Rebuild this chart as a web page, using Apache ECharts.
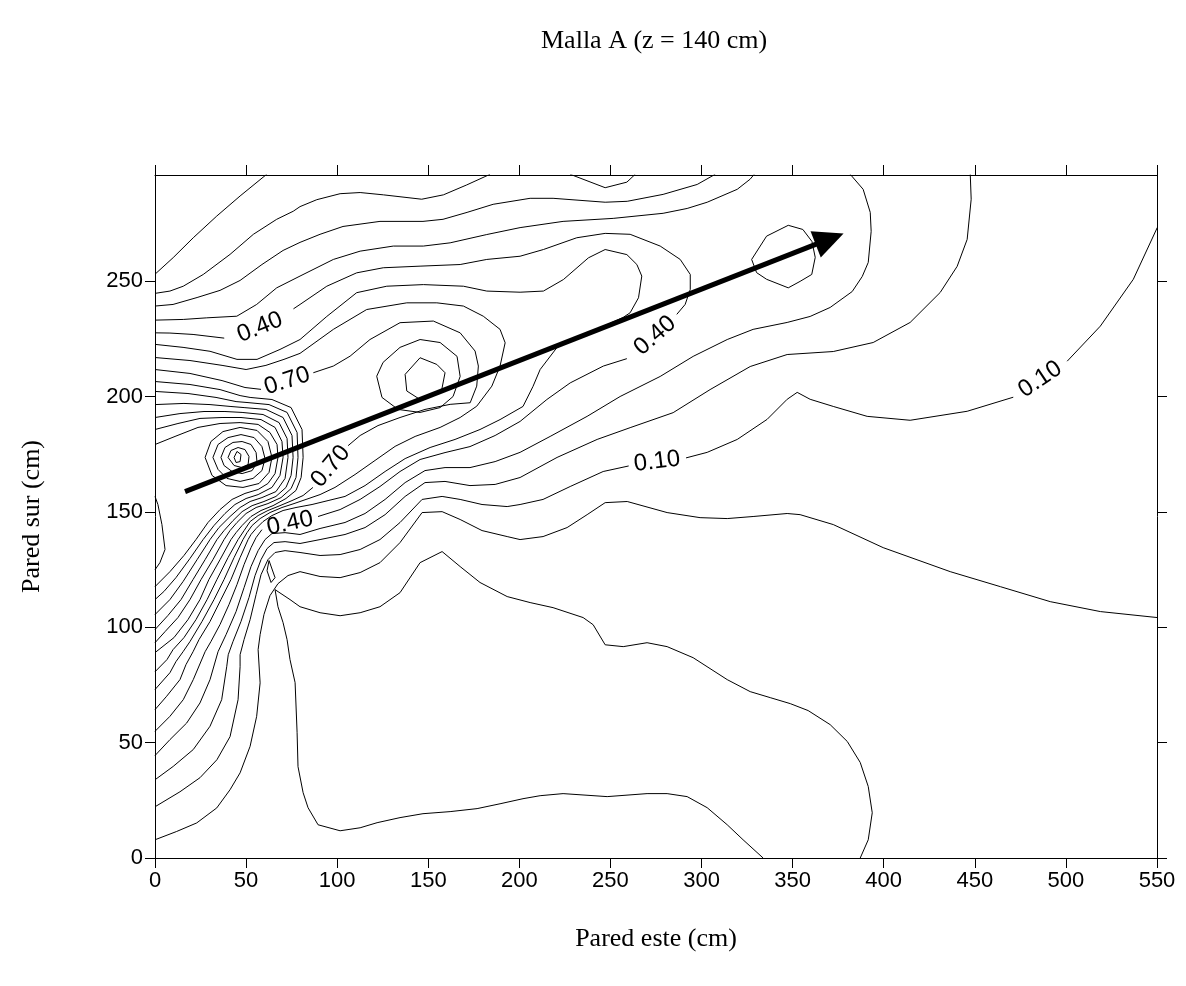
<!DOCTYPE html>
<html><head><meta charset="utf-8">
<script src="https://cdn.jsdelivr.net/npm/echarts@6/dist/echarts.min.js"></script>
<style>html,body{margin:0;padding:0;background:#fff}#c{width:1186px;height:986px}</style>
</head><body><div id="c"></div>
<script>
// axis ranges / ticks
const xMin = 0, xMax = 550, xStep = 50;
const yMin = 0, yMax = 296, yStep = 50;
const xTickValues = [0,50,100,150,200,250,300,350,400,450,500,550];
const yTickValues = [0,50,100,150,200,250];

// contour polylines (data units: cm, cm)
const lineL6 = [[333.8,0],[322.8,7.9],[314.1,14.4],[303.1,21.8],[292.1,26.6],[281.1,27.9],[270.1,27.9],[248.2,26.6],[224,27.9],[211.4,27],[202,25.7],[189.4,23.5],[176.8,21.4],[162,20.1],[147.1,19.2],[134.5,17.5],[121.9,15.3],[112.6,13.1],[101.6,11.8],[89.5,14.4],[84,21.8],[81.3,28.3],[78.5,39.6],[78,54.3],[76.9,76],[74.1,86],[72.5,94.6],[70.3,102],[67.5,108.9],[65.9,116.3],[74.1,112],[79.6,108.9],[90.6,106.3],[101.6,105],[112.6,106.3],[123.5,108.9],[134.5,115],[145.5,128],[157.6,132.8],[167.5,126.3],[178.4,119.4],[193.3,113.3],[205.9,110.7],[218.5,108.5],[235,104.2],[240.5,101.1],[247.1,92.4],[257,91.6],[270.1,93.3],[281.1,91.6],[295.4,86.8],[314.1,77.3],[326.7,72.1],[337.7,69.5],[348.7,66.9],[358.5,63.9],[370.6,57.8],[380,50.5],[387.1,41.4],[391.5,31],[393.7,19.6],[391.5,7.9],[387.1,0]];
const lineL5 = [[0,7.9],[11.9,11.5],[22.9,15.2],[33.9,21.7],[41.2,29.6],[46.7,36.9],[52.2,48.4],[55.8,61.4],[57.7,75.9],[56.6,90.3],[57.7,96.8],[59.8,105.5],[63.1,113.7],[67.5,118.9],[73,122.4],[79.6,124.1],[90.6,122],[101.6,121.5],[112.6,123.7],[123.5,128],[134.5,136.7],[146.6,149.7],[157.6,150.1],[167.5,146.7],[179.5,141.9],[193.3,139.3],[200.4,138],[213,139.3],[226.2,143.2],[237.2,148.8],[247.1,154],[259.2,154.5],[281.1,149.7],[299.2,147.5],[314.1,147.1],[328.3,148],[347,149.3],[354.1,148.8],[372.3,144.5],[399.7,134.5],[436.5,124.1],[464,117.6],[491.4,111.1],[518.9,106.8],[550.2,104.2]];
const sliverLoop = [[62.6,128.9],[65.9,121.5],[63.7,119.4],[61.5,124.5],[62.6,128.9]];
const line010a = [[0,22.2],[13.7,28.7],[24.7,34.8],[34,42.6],[41.2,52.6],[45.6,68.6],[46.7,82.9],[46.7,88.1],[48.9,94.7],[52.2,103.3],[55.5,114.2],[58.2,122.8],[62,129.3],[65.9,132.4],[71.4,133.2],[79.6,132.4],[90.6,131.1],[101.6,131.5],[112.6,133.7],[123.5,138],[134.5,145.4],[146.6,155.4],[157.6,156.7],[167.5,155.4],[179.5,153.2],[193.3,152.3],[200.4,153.2],[213,155.4],[227.9,161],[246,167.5],[260,169.9]];
const line010b = [[291.5,173.4],[303.1,175.8],[319.6,181.4],[336,190.1],[347,198.8],[352.5,201.8],[359.6,198.8],[372.3,195.7],[390.9,191.4],[414.5,189.7],[445.8,193.6],[471.1,199.7]];
const line010c = [[500.7,215.3],[518.9,230.5],[537,250.8],[550.2,273.3]];
const lineA = [[381.6,296.3],[388.7,289.8],[392.6,279.8],[393.1,271.6],[391.5,258.1],[388.2,252],[382.7,245.5],[370.6,238.6],[359.6,234.7],[347,232.1],[328.3,229.1],[314.1,224.7],[295.4,217.4],[277.3,208.7],[255.3,200],[237.2,191.4],[216.9,182.7],[200.4,175.8],[186.7,171.8],[172.9,169.2],[159.2,169.2],[148.2,167.9],[137.3,162.7],[126.3,155.4],[115.3,149.3],[104.3,145.4],[90.6,142.8],[79.6,140.2],[71.4,141],[64.2,140.6],[60.4,138],[56.6,133.2],[52.7,126.3],[48.9,117.2],[44.5,106.8],[39,96.8],[34.6,89.4],[30.2,77.3],[24.7,67.2],[17.4,58.5],[8.2,51.3],[0,44.4]];
const lineB = [[447.5,296.3],[448,285.5],[445.8,268.1],[440.3,256.4],[431,245.1],[414.5,232.1],[394.2,223.4],[372.3,219.5],[347,218.2],[326.7,213],[304.7,203],[284.4,193],[260.8,186.5],[242.7,181.4],[220.7,173.6],[200.4,164.9],[186.7,161.9],[172.9,161.4],[159.2,163.2],[148.2,162.7],[137.3,156.7],[126.3,148.8],[115.3,143.2],[104.3,140.2],[90.6,138],[79.6,136.3],[71.4,137.1],[65.3,136.7],[61.5,134.1],[58.2,129.3],[54.9,122.4],[51.6,112.9],[47.2,102.5],[42.8,93.8],[40.2,88.1],[39.4,83.1],[36.6,68.6],[30.2,57.1],[21,47],[10,39.7],[0,33.9]];
const tipLoop = [[327.5,259.4],[335.7,269.5],[347.6,274.2],[355.6,272.4],[360.6,267.2],[362.4,260.3],[360.5,252.9],[354.1,249.9],[347.6,247.1],[335.7,250.8],[330.2,253.7],[327.5,259.4]];
const lineU1 = [[0,253],[10,260.2],[21,268.8],[33.9,278.2],[46.7,286.9],[61.3,296.3]];
const lineU2 = [[0,244.7],[8.2,245.7],[15.5,247.8],[26.5,252.9],[41.2,261.6],[54,270.3],[66.8,276.8],[75.9,280.3],[79.6,282.3],[88.8,285.3],[101.6,287.9],[112.6,288.4],[125.4,287.4],[146.4,285.5],[158.3,287.4],[171.1,291.7],[183.9,296.3]];
const lineTopDip = [[227.9,296.3],[247.1,290.5],[259,292.9],[263.6,296.3]];
const lineUb = [[0,239.2],[9.9,239.9],[23.1,242.9],[35.7,246],[46.7,250.3],[58.7,257.2],[70.3,263.3],[79.6,266.8],[90.6,270.3],[103.2,273.7],[123.5,275.9],[147.1,275.9],[158.1,276.8],[171.3,279.8],[185.6,283.3],[205.9,285.9],[218.5,285.9],[247.1,284.2],[259.2,284.6],[278.9,287.6],[297.6,291.9],[307.5,296.3]];
const lineUc = [[0,233.1],[15.5,233.4],[28.4,234.1],[44.9,234.8],[55.8,239.9],[66.8,247.1],[79.6,252.2],[97.9,259.4],[112.6,263],[130.8,265.2],[147.3,265.2],[162,266.6],[182.1,270.2],[200.4,273.2],[224,275.9],[251.5,277.2],[278.9,279.4],[292.1,281.5],[303.1,284.2],[319.6,289.8],[326.7,294.2],[328.9,296.3]];
const line040a = [[0,227.6],[8.2,227.5],[20.9,226.9],[38,225.3]];
const line040b = [[76,238],[79.6,239.9],[94.3,247.8],[110.7,253.6],[125.3,255.8],[145.5,256.5],[167.5,257.2],[182.1,259.4],[200.4,260.8],[213.2,263.7],[231.5,268.8],[247.1,270.7],[260.8,270.3],[277.3,265.2],[288.3,259.4],[293.8,252.9],[293.8,246.4],[291,239.9],[286.4,235.6]];
const line040c = [[259,216.4],[246.1,213.2],[227.9,205.9],[215.1,198.7],[200.4,189.2],[186.7,183.1],[172.9,178.3],[159.2,175.7],[145.5,172.7],[134.5,167.5],[123.5,161],[112.6,155.4],[101.6,151],[89.5,148]];
const line040d = [[58.7,142.3],[55.5,138.9],[52.7,134.5],[48.9,127.2],[45,118.5],[40.6,109.8],[35.7,101.2],[30.7,93.8],[27.5,89.4],[21,77.3],[15.5,68.6],[8.2,61.4],[0,54.9]];
const line050 = [[0,222.6],[15.4,221.3],[30.2,219.6],[45,216.1],[56,216.1],[68.6,220.4],[79.6,224.7],[94.3,234.7],[110.7,245],[127.2,247.8],[147.3,248.5],[169.3,247.8],[182.1,245.7],[200.4,245.2],[213.2,245.7],[224.2,250.7],[237.9,260.1],[247.1,263.7],[259,261.5],[264.5,257.2],[267.2,252.2],[265.4,242.8],[260.8,236.3],[257,234.3],[220.7,221.3],[211.4,211.7],[207.5,204.4],[202,195.7],[189.4,190],[178.4,185.7],[164.7,181.4],[151,177.9],[137.3,173.1],[126.3,167.5],[115.3,161.4],[104.3,156.7],[95,154.9],[86.2,153.2],[77.4,151.9],[70.3,150.6],[64.2,148.4],[59.3,145.8],[55.5,142.8],[52.7,140.2],[51.1,138],[46.7,130.2],[41.7,120.7],[36.2,112],[30.2,102.5],[24.2,94.7],[20.9,89.4],[17,83.8],[13.7,77.3],[6.4,70.1],[0,64.3]];
const line060 = [[0,216.9],[19.2,215.6],[36.8,213.5],[50,211.7],[60.9,213.5],[70.8,216.1],[79.6,218.7],[97.9,229.1],[116.2,237.7],[138.2,240.6],[154.7,240.6],[169.3,239.2],[180.2,234.8],[189.4,229.1],[192.2,223.3],[189.4,213.2],[184.9,204.5],[176.6,195.8],[167.5,190.9],[156.5,186.6],[142.8,182.7],[131.8,178.4],[120.8,172.3],[109.8,166.2],[98.8,160.6],[90.6,157.5],[82.9,155.4],[76.3,153.6],[69.7,151.9],[63.1,149.7],[57.7,147.1],[53.3,144.1],[50.5,141],[48.3,138],[43.4,130.2],[37.9,120.7],[32.4,112],[25.8,102.5],[19.2,93.8],[15.4,89.4],[11.5,85.1],[8.2,80.3],[0,73]];
const line070a = [[0,211.7],[19.2,210],[36.8,206.9],[49.4,203.9],[58.2,203.1]];
const line070b = [[86.9,210.3],[97.9,213.2],[107.1,217.5],[118,224.7],[134.5,232],[152.8,232.7],[167.5,227.6],[175.7,219.7],[177.5,213.2],[176.6,204.5],[173,197.3],[162,196.6],[148.2,194.4],[134.5,190.9],[122.4,187.4],[112.6,183.1],[106,178.7]];
const line070c = [[86.7,160.6],[81.3,157.1],[75.2,154.9],[68.6,152.7],[62,150.6],[56.6,148.4],[52.2,145.8],[48.9,141.9],[45.6,138],[40.1,130.2],[34,120.7],[28.6,112],[22.5,103.3],[15.9,95.5],[9.9,90.3],[6.6,86],[0,80.7]];
const line080 = [[0,206.5],[19.2,205.2],[35.7,203],[46.7,200.4],[52.2,199.6],[64.2,198.7],[74.7,195.2],[80.7,185.7],[81.3,173.6],[80.2,164.9],[77.4,159.3],[71.9,155.8],[64.8,152.7],[58.2,150.6],[52.7,148],[47.8,144.1],[44.5,141],[41.7,138],[35.7,129.3],[29.6,120.7],[24.7,112],[18.1,103.3],[10.4,95.5],[0,89]];
const line090 = [[0,202.2],[18.1,201.3],[33.5,199.6],[44.5,197.8],[50.5,197.4],[62.6,196.5],[72.5,193.1],[78,184.4],[78.5,173.6],[77.4,164.9],[74.7,160.1],[69.2,156.2],[62,153.6],[55.5,151.9],[50,149.3],[45,145.4],[41.2,141.9],[37.9,138],[31.8,129.3],[25.3,120.7],[19.2,112],[12.6,104.2],[5.5,98.1],[0,93.3]];
const line100 = [[0,196.5],[15.9,197],[30.2,196.5],[41.2,195.7],[48.9,195.2],[60.9,194.4],[70.3,190.9],[75.2,183.1],[75.8,173.6],[74.7,165.8],[71.9,160.6],[66.4,156.7],[59.8,154.5],[53.3,152.7],[47.8,150.1],[42.8,146.2],[37.9,141.9],[34,138],[27.5,129.3],[20.9,120.7],[14.3,112],[7.1,105.1],[0,99]];
const line110 = [[0,190.9],[13.7,192.6],[26.9,193.5],[38.4,193.5],[47.8,193.1],[59.3,192.2],[68.1,188.7],[72.5,181.8],[73,173.6],[71.4,164.5],[66.4,158.8],[58.7,156.2],[52.2,154.5],[46.7,151.9],[41.2,148],[35.1,143.2],[30.2,138],[23.1,129.3],[15.4,119.8],[8.2,112],[0,105.5]];
const line120 = [[0,185.7],[12.6,188.3],[24.7,190.5],[36.8,190.9],[47.2,190.9],[58.2,190],[65.9,186.6],[69.7,180.5],[70.3,173.6],[68.6,165.8],[64.2,160.6],[56.6,157.5],[50,155.8],[43.9,153.2],[38.4,149.3],[32.4,144.1],[26.4,138],[19.2,129.8],[11.5,121.5],[4.9,115.5],[0,112]];
const line130 = [[0,179.2],[11,182.7],[23.6,186.6],[35.7,188.3],[46.7,188.7],[56.6,187.9],[63.1,184.4],[67,179.2],[67.5,173.6],[65.9,166.6],[62,162.3],[56.6,159.7],[49.4,158],[42.3,155.4],[35.7,151],[29.1,145.4],[22.5,138],[15.9,131.1],[8.2,124.1],[0,117.6]];
const peakLoop5 = [[27.5,173.6],[30.7,180.5],[37.3,184.8],[46.7,186.6],[56,185.3],[62,180.5],[64.2,173.6],[62.6,167.1],[57.1,162.3],[48.3,160.6],[39,161.4],[31.3,165.8],[27.5,173.6]];
const peakLoop4 = [[31.8,173.6],[34.6,179.2],[40.1,182.2],[47.2,183.5],[54.4,182.2],[58.7,178.3],[60.4,173.1],[58.7,167.9],[53.8,164.5],[46.7,163.2],[39.5,164.5],[34.6,168.4],[31.8,173.6]];
const peakLoop3 = [[36.2,173.6],[38.4,177.9],[42.8,180.1],[47.8,180.5],[52.7,179.2],[55.5,175.7],[56,171.4],[53.3,167.9],[47.8,166.6],[42.3,167.5],[37.9,170.1],[36.2,173.6]];
const peakLoop2 = [[40.1,173.6],[41.7,176.6],[45.6,177.9],[49.4,177],[51.6,174],[51.1,170.5],[47.8,169.2],[43.4,170.1],[40.1,173.6]];
const peakLoop1 = [[43.4,173.6],[45,176.2],[47.2,174.9],[46.7,171.8],[44.5,171.4],[43.4,173.6]];
const edgeLoop = [[0,156.7],[1.6,153.2],[3.8,144.5],[5.5,133.7],[2.7,128],[0,124.9]];
const bumpLoop2 = [[121.7,208.8],[125.2,214.8],[134.5,221.3],[145.5,224.7],[156.5,223.4],[165.8,217.4],[167.5,208.7],[163.6,200],[156.5,195.2],[145.5,193.1],[133.4,194.4],[124.6,199.6],[121.7,208.8]];
const bumpLoop3 = [[137.3,209.6],[145.5,216.8],[154.7,213.9],[159.2,210.3],[157.4,203],[145.5,198.7],[138.2,202.4],[137.3,209.6]];

const contourLines = [lineL6, lineL5, sliverLoop, line010a, line010b, line010c, lineA, lineB, tipLoop,
  lineU1, lineU2, lineTopDip, lineUb, lineUc, line040a, line040b, line040c, line040d,
  line050, line060, line070a, line070b, line070c, line080, line090, line100, line110, line120, line130,
  peakLoop5, peakLoop4, peakLoop3, peakLoop2, peakLoop1, edgeLoop, bumpLoop2, bumpLoop3];

// contour labels: [x, y, text, angle]
const contourLabels = [
  [57.6,230.0,'0.40',22],
  [72.5,206.7,'0.70',18],
  [96.4,169.7,'0.70',50],
  [74.1,145.0,'0.40',12],
  [274.5,226.4,'0.40',41],
  [275.6,171.8,'0.10',7],
  [485.9,207.4,'0.10',34]
];

// flow arrow: start, end
const arrowPath = [[16.5,158.8],[370.3,268.3]];

const chart = echarts.init(document.getElementById('c'), null, {renderer:'canvas'});

const axisCommon = {
  type:'value',
  axisLine:{show:true,onZero:false,lineStyle:{color:'#000',width:1}},
  splitLine:{show:false}
};
const sans = 'Liberation Sans, Arial, sans-serif';
const serif = 'Liberation Serif, Times New Roman, serif';
const tickStyle = {show:true,inside:false,length:10,lineStyle:{color:'#000',width:1}};

const series = contourLines.map(pts => ({
  type:'line', data:pts, symbol:'none', silent:true, animation:false,
  lineStyle:{color:'#000',width:1}, xAxisIndex:0, yAxisIndex:0, z:2
}));
series.push({
  type:'scatter', silent:true, animation:false, symbolSize:1, z:5,
  itemStyle:{opacity:0},
  data: contourLabels.map(l => ({value:[l[0],l[1]], name:l[2], label:{rotate:l[3]}})),
  label:{show:true, position:'inside', formatter:p=>p.name, fontFamily:sans, fontSize:24, color:'#000', opacity:1}
});
series.push({
  type:'line', data:[], silent:true, animation:false, z:6,
  markLine:{
    silent:true, animation:false, symbol:['none','triangle'], symbolSize:[28,30],
    lineStyle:{color:'#000',width:5,type:'solid',opacity:1}, itemStyle:{color:'#000'}, label:{show:false},
    emphasis:{disabled:true},
    data:[[{coord:arrowPath[0]},{coord:arrowPath[1]}]]
  }
});

const yFmt = v => (yTickValues.indexOf(v) >= 0 ? String(v) : '');

chart.setOption({
  animation:false,
  backgroundColor:'#fff',
  title:{text:'Malla A (z = 140 cm)', left:536, top:23,
    textStyle:{fontFamily:serif,fontSize:26,fontWeight:'normal',color:'#000'}},
  grid:{left:155,right:29,top:175,bottom:128},
  xAxis:[
    Object.assign({}, axisCommon, {position:'bottom', min:xMin, max:xMax, interval:xStep,
      axisTick:Object.assign({customValues:xTickValues}, tickStyle),
      axisLabel:{margin:12, fontFamily:sans, fontSize:22, color:'#000', customValues:xTickValues},
      name:'Pared este (cm)', nameLocation:'middle', nameGap:68,
      nameTextStyle:{fontFamily:serif,fontSize:26,color:'#000'}}),
    Object.assign({}, axisCommon, {position:'top', min:xMin, max:xMax, interval:xStep,
      axisTick:Object.assign({customValues:xTickValues}, tickStyle), axisLabel:{show:false}})
  ],
  yAxis:[
    Object.assign({}, axisCommon, {position:'left', min:yMin, max:yMax, interval:yStep,
      axisTick:Object.assign({customValues:yTickValues}, tickStyle),
      axisLabel:{margin:12, fontFamily:sans, fontSize:22, color:'#000', customValues:yTickValues, formatter:yFmt},
      name:'Pared sur (cm)', nameLocation:'middle', nameGap:110,
      nameTextStyle:{fontFamily:serif,fontSize:26,color:'#000'}}),
    Object.assign({}, axisCommon, {position:'right', min:yMin, max:yMax, interval:yStep,
      axisTick:Object.assign({customValues:yTickValues}, tickStyle), axisLabel:{show:false}})
  ],
  series:series
});
</script></body></html>
